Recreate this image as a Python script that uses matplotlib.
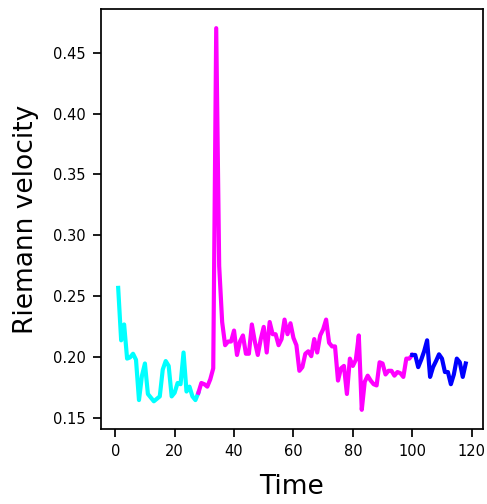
import numpy as np
import matplotlib
matplotlib.use("Agg")
import matplotlib.pyplot as plt

# time steps for each phase (segments share the boundary point)
t_cyan = list(range(1, 29))
v_cyan = [0.257, 0.214, 0.227, 0.199, 0.200, 0.203, 0.198, 0.165, 0.185, 0.195,
          0.170, 0.167, 0.164, 0.166, 0.168, 0.190, 0.197, 0.193, 0.168, 0.171,
          0.179, 0.178, 0.204, 0.172, 0.176, 0.168, 0.165, 0.171]

t_magenta = list(range(28, 101))
v_magenta = [0.171, 0.179, 0.178, 0.176, 0.182, 0.191, 0.470, 0.275, 0.229, 0.210,
             0.213, 0.213, 0.222, 0.202, 0.213, 0.218, 0.203, 0.203, 0.227, 0.213,
             0.202, 0.215, 0.225, 0.204, 0.229, 0.219, 0.219, 0.210, 0.215, 0.231,
             0.219, 0.228, 0.216, 0.210, 0.189, 0.192, 0.203, 0.205, 0.201, 0.215,
             0.204, 0.218, 0.223, 0.231, 0.212, 0.209, 0.209, 0.181, 0.191, 0.193,
             0.170, 0.199, 0.193, 0.198, 0.218, 0.157, 0.180, 0.185, 0.181, 0.178,
             0.177, 0.196, 0.195, 0.186, 0.189, 0.189, 0.185, 0.188, 0.187, 0.184,
             0.199, 0.199, 0.202]

t_blue = list(range(100, 119))
v_blue = [0.202, 0.202, 0.192, 0.198, 0.205, 0.214, 0.184, 0.192, 0.197, 0.2025,
          0.199, 0.188, 0.188, 0.178, 0.186, 0.199, 0.196, 0.184, 0.195]

fig = plt.figure(figsize=(4.87, 5.04), dpi=100)
ax = fig.add_axes([0.207, 0.149, 0.785, 0.833])

ax.plot(t_cyan, v_cyan, color="cyan", lw=3)
ax.plot(t_magenta, v_magenta, color="magenta", lw=3)
ax.plot(t_blue, v_blue, color="blue", lw=3)

ax.set_xlabel("Time", fontsize=19, labelpad=10.5)
ax.set_ylabel("Riemann velocity", fontsize=19, labelpad=10)
ax.tick_params(labelsize=10.5, length=6, width=1.25, pad=5)
for s in ax.spines.values():
    s.set_linewidth(1.25)

plt.savefig("out.png", dpi=100)
